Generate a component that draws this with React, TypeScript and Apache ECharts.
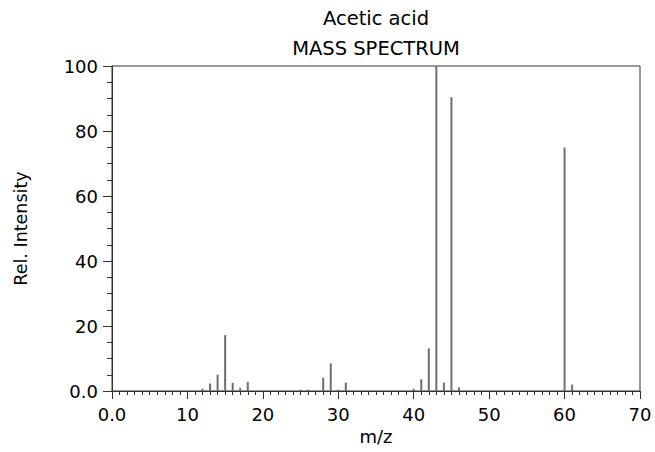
import React, { useEffect, useRef } from "react";
import * as echarts from "echarts";

const titleLines = ["Acetic acid", "MASS SPECTRUM"];
const xTitle = "m/z";
const yTitle = "Rel. Intensity";

const mzValues = [12, 13, 14, 15, 16, 17, 18, 25, 26, 28, 29, 30, 31, 40, 41, 42, 43, 44, 45, 46, 60, 61];
const intensities = [0.7, 2.3, 5.0, 17.2, 2.5, 1.0, 2.8, 0.4, 0.4, 4.1, 8.5, 0.4, 2.6, 0.7, 3.6, 13.1, 100, 2.6, 90.4, 1.1, 74.9, 2.0];

const FONT = "DejaVu Sans";

export default function App() {
  const ref = useRef<HTMLDivElement>(null);
  useEffect(() => {
    if (!ref.current) return;
    const chart = echarts.init(ref.current, undefined, { renderer: "svg" });
    const data = mzValues.map((m, i) => [m, intensities[i]]);
    const axisColor = "#333";
    chart.setOption({
      animation: false,
      backgroundColor: "#fff",
      graphic: [
        {
          type: "text",
          x: 376,
          y: 8,
          style: { text: titleLines[0], fontFamily: FONT, fontSize: 19.5, fill: "#000", align: "center", verticalAlign: "top" },
        },
        {
          type: "text",
          x: 376,
          y: 38,
          style: { text: titleLines[1], fontFamily: FONT, fontSize: 19.5, fill: "#000", align: "center", verticalAlign: "top" },
        },
      ],
      grid: {
        left: 112,
        right: 15,
        top: 66,
        bottom: 61,
        show: true,
        borderColor: axisColor,
        borderWidth: 1,
        backgroundColor: "transparent",
      },
      xAxis: {
        type: "value",
        min: 0,
        max: 70,
        interval: 10,
        name: xTitle,
        nameLocation: "middle",
        nameGap: 36,
        nameTextStyle: { fontFamily: FONT, fontSize: 18, color: "#000" },
        axisLine: { show: true, lineStyle: { color: axisColor, width: 1 } },
        axisTick: { show: true, inside: false, length: 8, lineStyle: { color: axisColor } },
        minorTick: { show: true, splitNumber: 10, length: 4, lineStyle: { color: axisColor } },
        splitLine: { show: false },
        axisLabel: {
          fontFamily: FONT,
          fontSize: 18,
          color: "#000",
          margin: 14,
          formatter: (v: number) => (v === 0 ? "0.0" : String(v)),
        },
      },
      yAxis: {
        type: "value",
        min: 0,
        max: 100,
        interval: 20,
        name: yTitle,
        nameLocation: "middle",
        nameGap: 82,
        nameTextStyle: { fontFamily: FONT, fontSize: 17.5, color: "#000" },
        axisLine: { show: true, lineStyle: { color: axisColor, width: 1 } },
        axisTick: { show: true, inside: false, length: 9, lineStyle: { color: axisColor } },
        minorTick: { show: true, splitNumber: 4, length: 5, lineStyle: { color: axisColor } },
        splitLine: { show: false },
        axisLabel: {
          fontFamily: FONT,
          fontSize: 18,
          color: "#000",
          margin: 14,
          formatter: (v: number) => (v === 0 ? "0.0" : String(v)),
        },
      },
      series: [
        {
          type: "bar",
          data,
          barWidth: 2,
          itemStyle: { color: "#6e6e6e" },
          silent: true,
        },
      ],
    });
    return () => chart.dispose();
  }, []);
  return <div ref={ref} style={{ position: "absolute", left: 0, top: 0, width: 655, height: 452 }} />;
}
